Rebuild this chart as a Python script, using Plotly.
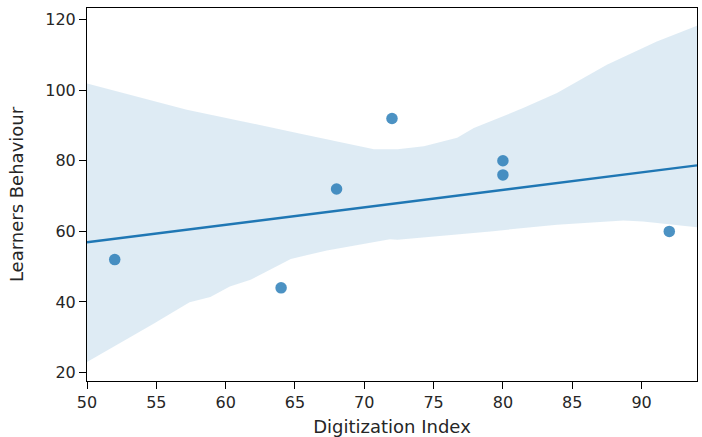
import plotly.graph_objects as go

# Data
digitization_index = [52, 64, 68, 72, 80, 80, 92]
learners_behaviour = [52, 44, 72, 92, 80, 76, 60]

fit_x = [50, 94]
fit_y = [56.9, 78.7]

band_upper_x = [50, 57.2, 65.4, 70.7, 72.4, 73.3, 74.3, 76.7, 77.9, 81.5, 83.9, 87.5, 91.1, 94]
band_upper_y = [101.9, 94.5, 87.7, 83.3, 83.3, 83.6, 84.1, 86.5, 89.3, 95.0, 99.2, 107.2, 113.8, 118.3]
band_lower_x = [50, 52.4, 54.8, 57.4, 58.9, 60.3, 61.8, 64.7, 67.3, 71.85, 72.4, 79.1, 83.9, 88.7, 90.1, 94]
band_lower_y = [23.0, 28.4, 33.8, 39.9, 41.4, 44.4, 46.3, 52.2, 54.6, 57.8, 57.6, 60.0, 61.9, 63.1, 62.8, 61.2]

x_ticks = [50, 55, 60, 65, 70, 75, 80, 85, 90]
y_ticks = [20, 40, 60, 80, 100, 120]

C0 = "#1f77b4"
font = "DejaVu Sans"

fig = go.Figure()
fig.add_trace(go.Scatter(
    x=band_upper_x + band_lower_x[::-1],
    y=band_upper_y + band_lower_y[::-1],
    fill="toself", fillcolor="rgba(31,119,180,0.15)",
    line=dict(width=0), mode="lines", hoverinfo="skip", showlegend=False))
fig.add_trace(go.Scatter(
    x=fit_x, y=fit_y, mode="lines",
    line=dict(color=C0, width=2.4), showlegend=False))
fig.add_trace(go.Scatter(
    x=digitization_index, y=learners_behaviour, mode="markers",
    marker=dict(color=C0, opacity=0.8, size=11.5, line=dict(width=0)),
    showlegend=False))

axis_common = dict(
    showgrid=False, zeroline=False, showline=True, linecolor="black",
    linewidth=1, mirror=True, ticks="outside", ticklen=7, tickwidth=1,
    tickcolor="black", automargin=False,
    tickfont=dict(family=font, size=16, color="#262626"),
)
fig.update_xaxes(range=[50, 94], tickvals=x_ticks,
                 title=dict(text="Digitization Index", standoff=9,
                            font=dict(family=font, size=18, color="#262626")),
                 **axis_common)
fig.update_yaxes(range=[17.6, 123.3], tickvals=y_ticks,
                 title=dict(text="Learners Behaviour", standoff=16,
                            font=dict(family=font, size=18, color="#262626")),
                 **axis_common)
fig.update_layout(
    width=702, height=437,
    margin=dict(l=87, r=5, t=8, b=56),
    plot_bgcolor="white", paper_bgcolor="white",
    font=dict(family=font),
)
fig.write_html("out.html",
               config={"displayModeBar": False},
               post_script="document.body.style.margin='0';document.body.style.overflow='hidden';")
